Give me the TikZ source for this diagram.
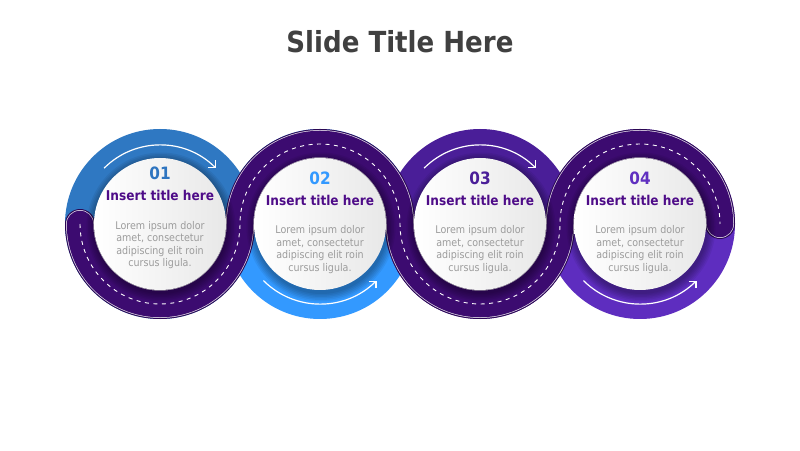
\documentclass[tikz,border=0pt]{standalone}
\usepackage{fontspec}
\setmainfont{DejaVu Sans Condensed}
\usetikzlibrary{arrows.meta}
\definecolor{cA}{HTML}{2F78C2}
\definecolor{cB}{HTML}{3399FF}
\definecolor{cC}{HTML}{4A1E98}
\definecolor{cD}{HTML}{5E2DBF}
\definecolor{nA}{HTML}{2F75C0}
\definecolor{nB}{HTML}{3399FF}
\definecolor{nC}{HTML}{4A1E98}
\definecolor{nD}{HTML}{6030C0}
\definecolor{roadcol}{HTML}{3C0B70}
\definecolor{roadedge}{HTML}{2A0652}
\definecolor{ttlcol}{HTML}{4E0C88}
\definecolor{bodycol}{HTML}{9C9C9C}
\definecolor{slidecol}{HTML}{404040}
\tikzset{
  arrowst/.style={white, line width=1.2pt, -{Straight Barb[length=5pt,width=10pt,line width=1.2pt]}},
  numtxt/.style={font=\fontsize{17}{19}\selectfont\bfseries},
  ttltxt/.style={font=\fontsize{13.5}{15}\selectfont\bfseries, text=ttlcol},
  bodytxt/.style={font=\fontsize{10.6}{12.4}\selectfont, text=bodycol, align=center},
  shadowc/.style={fill=black, opacity=0.06},
}
\def\roadpath{(80,226) arc[start angle=180,end angle=360,radius=80pt] arc[start angle=180,end angle=0,radius=80pt] arc[start angle=180,end angle=360,radius=80pt] arc[start angle=180,end angle=0,radius=80pt]}
\begin{document}
\begin{tikzpicture}[x=1pt,y=1pt]
\useasboundingbox (0,0) rectangle (800,450);
\fill[white] (0,0) rectangle (800,450);
\node[font=\fontsize{29}{32}\selectfont\bfseries, text=slidecol] (title) at (400,408) {Slide Title Here};
% colored disks
\fill[cA] (160,226) circle[radius=95pt];
\fill[cB] (320,226) circle[radius=95pt];
\fill[cC] (480,226) circle[radius=95pt];
\fill[cD] (640,226) circle[radius=95pt];
% road
\draw[line width=30pt, roadedge, line cap=round] \roadpath;
\draw[line width=28pt, white!80!roadcol, line cap=round] \roadpath;
\draw[line width=26.5pt, roadcol, line cap=round] \roadpath;
\draw[line width=0.9pt, white, dash pattern=on 4pt off 4.5pt] \roadpath;
% shadows and white circles
\foreach \cx in {160,320,480,640}{
  \foreach \r in {67,68.5,70,71.5,73,74.5}{
    \fill[shadowc] (\cx+1,223) circle[radius=\r pt];
  }
  \shade[left color=white, right color=black!9] (\cx,226) circle[radius=66pt];
}
% arrows
\draw[arrowst] (160,226) ++(135:79pt) arc[start angle=135,end angle=45,radius=79pt];
\draw[arrowst] (320,226) ++(225:80pt) arc[start angle=225,end angle=315,radius=80pt];
\draw[arrowst] (480,226) ++(135:79pt) arc[start angle=135,end angle=45,radius=79pt];
\draw[arrowst] (640,226) ++(225:80pt) arc[start angle=225,end angle=315,radius=80pt];
% texts
\node[numtxt, text=nA] (n1) at (160,277) {01};
\node[ttltxt] (t1) at (160,255) {Insert title here};
\node[bodytxt] (b1) at (160,205) {Lorem ipsum dolor\\amet, consectetur\\adipiscing elit roin\\cursus ligula.};
\node[numtxt, text=nB] (n2) at (320,272) {02};
\node[ttltxt] (t2) at (320,250) {Insert title here};
\node[bodytxt] (b2) at (320,200.5) {Lorem ipsum dolor\\amet, consectetur\\adipiscing elit roin\\cursus ligula.};
\node[numtxt, text=nC] (n3) at (480,272) {03};
\node[ttltxt] (t3) at (480,250) {Insert title here};
\node[bodytxt] (b3) at (480,200.5) {Lorem ipsum dolor\\amet, consectetur\\adipiscing elit roin\\cursus ligula.};
\node[numtxt, text=nD] (n4) at (640,272) {04};
\node[ttltxt] (t4) at (640,250) {Insert title here};
\node[bodytxt] (b4) at (640,200.5) {Lorem ipsum dolor\\amet, consectetur\\adipiscing elit roin\\cursus ligula.};
\end{tikzpicture}
\end{document}
